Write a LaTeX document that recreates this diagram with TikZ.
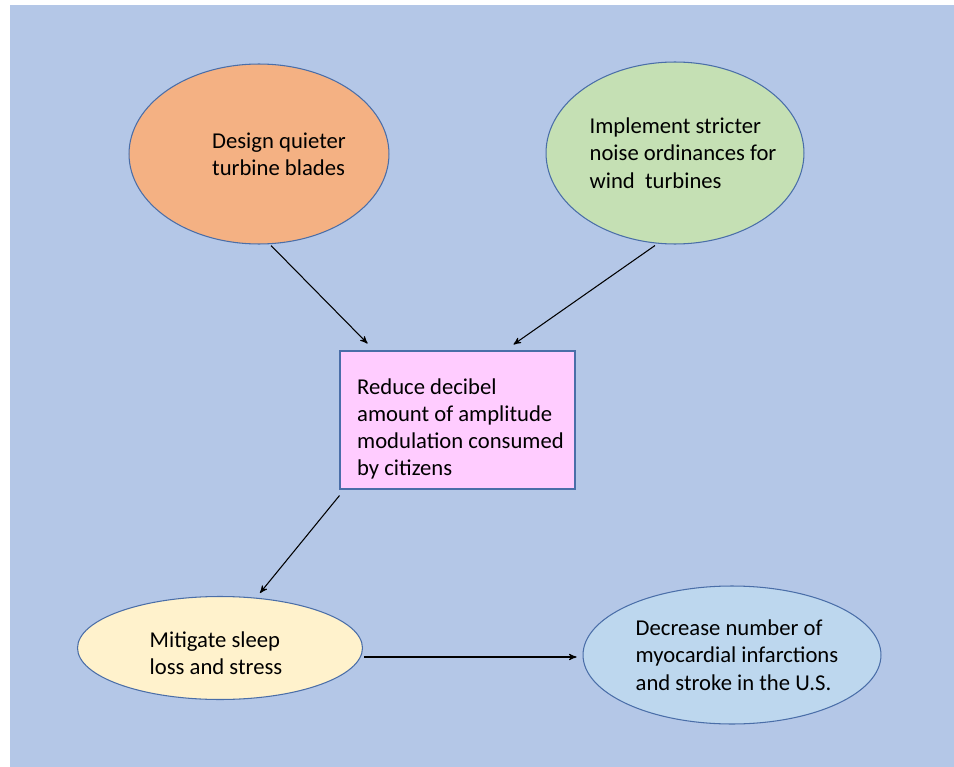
\documentclass[tikz,border=0pt]{standalone}
\usepackage{fontspec}
\setmainfont{Carlito}
\usepackage{xcolor}
\usepackage{tikz}
\usetikzlibrary{positioning,arrows,shapes.geometric}

\definecolor{bgblue}{HTML}{B4C7E7}
\definecolor{edgeblue}{HTML}{4A6EA8}
\definecolor{orangefill}{HTML}{F4B183}
\definecolor{greenfill}{HTML}{C5E0B4}
\definecolor{pinkfill}{HTML}{FFCCFF}
\definecolor{yellowfill}{HTML}{FFF2CC}
\definecolor{lightfill}{HTML}{BDD7EE}

\begin{document}
\begin{tikzpicture}[->,>=stealth',x=0.02cm,y=-0.02cm,
	goal/.style={ellipse,draw=edgeblue,line width=0.6pt,inner sep=0pt},
	txt/.style={align=left,inner sep=0pt,font=\fontsize{12.9}{15.5}\selectfont},
	action/.style={rectangle,draw=edgeblue,line width=0.6pt,fill=pinkfill,
		minimum width=4.7cm,minimum height=2.76cm}]
	\useasboundingbox (0,0) rectangle (954,767);
	\fill[bgblue] (10,5) rectangle (954,767);

	% shapes
	\node [goal,fill=orangefill,minimum width=5.2cm,minimum height=3.6cm] at (259,154) (blades) {};
	\node [goal,fill=greenfill,minimum width=5.16cm,minimum height=3.64cm] at (675,153) (ordin) {};
	\node [action] at (457.5,420) (reduce) {};
	\node [goal,fill=yellowfill,minimum width=5.7cm,minimum height=2.06cm] at (220,648) (sleep) {};
	\node [goal,fill=lightfill,minimum width=5.96cm,minimum height=2.76cm] at (732,655) (heart) {};

	% texts
	\node [txt] at ([shift={(20,0)}]blades.center) (bladestxt) {Design quieter\\turbine blades};
	\node [txt] at ([shift={(8,0)}]ordin.center) (ordintxt) {Implement stricter\\noise ordinances for\\wind\ \ turbines};
	\node [txt] at ([shift={(3,9)}]reduce.center) (reducetxt) {Reduce decibel\\amount of amplitude\\modulation consumed\\by citizens};
	\node [txt] at ([shift={(-4,5)}]sleep.center) (sleeptxt) {Mitigate sleep\\loss and stress};
	\node [txt] at ([shift={(5,0)}]heart.center) (hearttxt) {Decrease number of\\myocardial infarctions\\and stroke in the U.S.};

	\path[->,line width=0.6pt]
	([shift={(12,1)}]blades.south) edge ([shift={(28,-7)}]reduce.north west)
	([shift={(-20,1)}]ordin.south) edge ([shift={(-62,-6)}]reduce.north east)
	([shift={(0,6)}]reduce.south west) edge ([shift={(40,-3)}]sleep.north)
	([shift={(1,9)}]sleep.east) edge ([shift={(-6,2)}]heart.west);
\end{tikzpicture}
\end{document}
